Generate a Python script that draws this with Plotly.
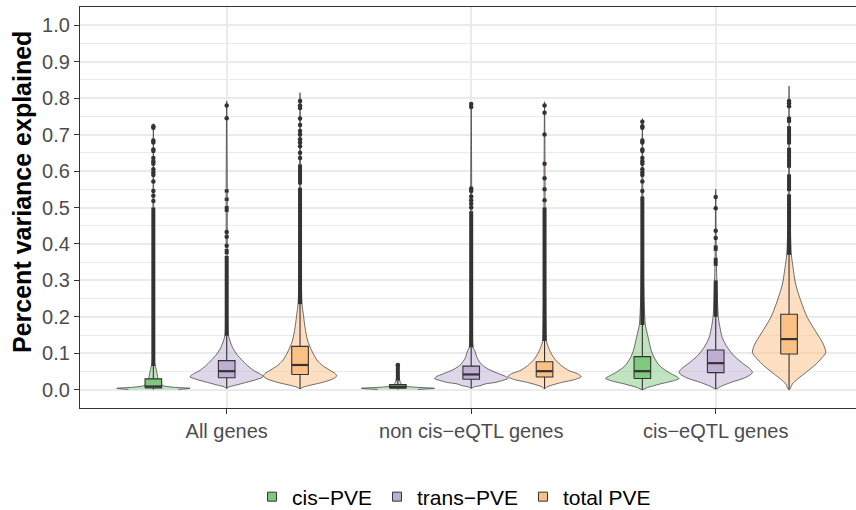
import plotly.graph_objects as go

# ---------------- data ----------------
groups = ["All genes", "non cis\u2212eQTL genes", "cis\u2212eQTL genes"]
series = ["cis\u2212PVE", "trans\u2212PVE", "total PVE"]
y_title = "Percent variance explained"

# box statistics per series, one value per group
cis_q1 = [0.005, 0.004, 0.031]
cis_median = [0.009, 0.008, 0.051]
cis_q3 = [0.030, 0.014, 0.091]
cis_lower = [0.001, 0.001, 0.000]
cis_upper = [0.065, 0.025, 0.178]

trans_q1 = [0.033, 0.029, 0.047]
trans_median = [0.051, 0.042, 0.073]
trans_q3 = [0.080, 0.065, 0.109]
trans_lower = [0.004, 0.004, 0.002]
trans_upper = [0.148, 0.116, 0.200]

total_q1 = [0.042, 0.035, 0.098]
total_median = [0.068, 0.051, 0.139]
total_q3 = [0.119, 0.077, 0.207]
total_lower = [0.003, 0.003, 0.000]
total_upper = [0.235, 0.134, 0.370]

# violin density profiles (value level, relative density 0..1)
cis_all_y = [0.001, 0.004, 0.007, 0.011, 0.016, 0.025, 0.040, 0.055, 0.065, 0.075, 0.20, 0.50, 0.73]
cis_all_d = [0.68, 1.0, 0.55, 0.27, 0.19, 0.14, 0.11, 0.08, 0.055, 0.03, 0.014, 0.011, 0]
trans_all_y = [0.004, 0.008, 0.012, 0.020, 0.029, 0.036, 0.044, 0.052, 0.066, 0.079, 0.098, 0.116, 0.134, 0.150, 0.30, 0.60, 0.792]
trans_all_d = [0, 0.07, 0.22, 0.52, 0.84, 1.0, 0.90, 0.75, 0.57, 0.44, 0.27, 0.16, 0.09, 0.046, 0.02, 0.014, 0]
total_all_y = [0.003, 0.007, 0.011, 0.020, 0.030, 0.038, 0.045, 0.052, 0.066, 0.079, 0.107, 0.134, 0.171, 0.207, 0.235, 0.40, 0.65, 0.815]
total_all_d = [0, 0.08, 0.22, 0.60, 0.90, 1.0, 0.95, 0.84, 0.62, 0.48, 0.32, 0.21, 0.136, 0.09, 0.055, 0.022, 0.014, 0]

cis_non_y = [0.001, 0.004, 0.007, 0.010, 0.015, 0.020, 0.030, 0.045, 0.068]
cis_non_d = [0.55, 1.0, 0.49, 0.22, 0.11, 0.07, 0.04, 0.022, 0]
trans_non_y = [0.004, 0.008, 0.011, 0.016, 0.020, 0.026, 0.031, 0.037, 0.043, 0.057, 0.070, 0.088, 0.107, 0.116, 0.30, 0.55, 0.786]
trans_non_d = [0, 0.08, 0.24, 0.38, 0.65, 0.87, 1.0, 0.93, 0.78, 0.46, 0.28, 0.16, 0.10, 0.055, 0.022, 0.014, 0]
total_non_y = [0.003, 0.007, 0.011, 0.020, 0.028, 0.036, 0.044, 0.052, 0.066, 0.088, 0.107, 0.125, 0.134, 0.30, 0.60, 0.79]
total_non_d = [0, 0.055, 0.145, 0.46, 0.82, 1.0, 0.90, 0.68, 0.46, 0.25, 0.145, 0.074, 0.055, 0.022, 0.014, 0]

cis_eqtl_y = [0.000, 0.006, 0.016, 0.024, 0.031, 0.038, 0.047, 0.066, 0.089, 0.107, 0.134, 0.157, 0.178, 0.35, 0.55, 0.744]
cis_eqtl_d = [0, 0.136, 0.49, 0.82, 1.0, 0.90, 0.73, 0.47, 0.32, 0.245, 0.18, 0.128, 0.082, 0.022, 0.014, 0]
trans_eqtl_y = [0.002, 0.009, 0.020, 0.034, 0.047, 0.058, 0.070, 0.093, 0.116, 0.143, 0.171, 0.198, 0.35, 0.55]
trans_eqtl_d = [0, 0.136, 0.41, 0.82, 1.0, 0.93, 0.77, 0.50, 0.32, 0.18, 0.117, 0.074, 0.019, 0]
total_eqtl_y = [0.000, 0.006, 0.016, 0.029, 0.047, 0.070, 0.088, 0.102, 0.125, 0.153, 0.198, 0.244, 0.290, 0.335, 0.372, 0.55, 0.833]
total_eqtl_d = [0, 0.046, 0.09, 0.226, 0.455, 0.73, 0.90, 1.0, 0.935, 0.77, 0.5, 0.32, 0.18, 0.11, 0.063, 0.016, 0]

# outliers: dense runs (low, high) and sparse single points
cis_all_runs = [(0.065, 0.50)]
cis_all_pts = [0.518, 0.532, 0.545, 0.571, 0.589, 0.596, 0.605, 0.620, 0.627, 0.636, 0.655, 0.659, 0.678, 0.684, 0.719, 0.723]
trans_all_runs = [(0.148, 0.367), (0.372, 0.386), (0.488, 0.504), (0.518, 0.527), (0.541, 0.550)]
trans_all_pts = [0.395, 0.420, 0.433, 0.745, 0.780]
total_all_runs = [(0.235, 0.554), (0.563, 0.618)]
total_all_pts = [0.636, 0.650, 0.668, 0.678, 0.687, 0.700, 0.710, 0.726, 0.744, 0.773, 0.780, 0.792]

cis_non_runs = [(0.025, 0.062)]
cis_non_pts = [0.066, 0.068]
trans_non_runs = [(0.116, 0.490)]
trans_non_pts = [0.500, 0.510, 0.520, 0.530, 0.545, 0.552, 0.776, 0.784]
total_non_runs = [(0.134, 0.500)]
total_non_pts = [0.520, 0.550, 0.580, 0.620, 0.700, 0.760, 0.780]

cis_eqtl_runs = [(0.178, 0.530)]
cis_eqtl_pts = [0.545, 0.571, 0.589, 0.596, 0.605, 0.620, 0.627, 0.636, 0.655, 0.659, 0.678, 0.684, 0.719, 0.723, 0.735]
trans_eqtl_runs = [(0.200, 0.300), (0.340, 0.362), (0.381, 0.396)]
trans_eqtl_pts = [0.416, 0.436, 0.498, 0.529]
total_eqtl_runs = [(0.370, 0.536), (0.545, 0.591), (0.609, 0.664), (0.673, 0.723)]
total_eqtl_pts = [0.737, 0.744, 0.778, 0.785, 0.792]

# ---------------- styling ----------------
box_colors = ["#7FC97F", "#BEAED4", "#FDC086"]
violin_fills = ["rgba(127,201,127,0.5)", "rgba(190,174,212,0.5)", "rgba(253,192,134,0.5)"]
DODGE = [-0.3, 0.0, 0.3]
HALF = 0.15
BOXHALF = 0.034
DARK = "#333333"
FONT = "Liberation Sans, Arial, Helvetica, sans-serif"

violins = [
    [(cis_all_y, cis_all_d), (cis_non_y, cis_non_d), (cis_eqtl_y, cis_eqtl_d)],
    [(trans_all_y, trans_all_d), (trans_non_y, trans_non_d), (trans_eqtl_y, trans_eqtl_d)],
    [(total_all_y, total_all_d), (total_non_y, total_non_d), (total_eqtl_y, total_eqtl_d)],
]
outliers = [
    [(cis_all_runs, cis_all_pts), (cis_non_runs, cis_non_pts), (cis_eqtl_runs, cis_eqtl_pts)],
    [(trans_all_runs, trans_all_pts), (trans_non_runs, trans_non_pts), (trans_eqtl_runs, trans_eqtl_pts)],
    [(total_all_runs, total_all_pts), (total_non_runs, total_non_pts), (total_eqtl_runs, total_eqtl_pts)],
]
stats = [
    (cis_q1, cis_median, cis_q3, cis_lower, cis_upper),
    (trans_q1, trans_median, trans_q3, trans_lower, trans_upper),
    (total_q1, total_median, total_q3, total_lower, total_upper),
]

fig = go.Figure()

# 1) violins
for s in range(3):
    for g in range(3):
        c = g + 1 + DODGE[s]
        ys, ds = violins[s][g]
        xr = [c + d * HALF for d in ds]
        xl = [c - d * HALF for d in ds]
        x = xr + xl[::-1][1:]
        y = list(ys) + list(ys[::-1])[1:]
        fig.add_trace(go.Scatter(
            x=x, y=y, mode="lines", fill="toself", fillcolor=violin_fills[s],
            line=dict(color=DARK, width=0.7, shape="spline", smoothing=0.8),
            hoverinfo="skip", showlegend=False))

# 2) whiskers
wx, wy = [], []
for s in range(3):
    q1, med, q3, lo, hi = stats[s]
    for g in range(3):
        c = g + 1 + DODGE[s]
        wx += [c, c, None, c, c, None]
        wy += [lo[g], q1[g], None, q3[g], hi[g], None]
fig.add_trace(go.Scatter(x=wx, y=wy, mode="lines", line=dict(color=DARK, width=1.1),
                         hoverinfo="skip", showlegend=False))

# 3) boxes + medians
for s in range(3):
    q1, med, q3, lo, hi = stats[s]
    bx, by, mx, my = [], [], [], []
    for g in range(3):
        c = g + 1 + DODGE[s]
        bx += [c - BOXHALF, c + BOXHALF, c + BOXHALF, c - BOXHALF, c - BOXHALF, None]
        by += [q1[g], q1[g], q3[g], q3[g], q1[g], None]
        mx += [c - BOXHALF, c + BOXHALF, None]
        my += [med[g], med[g], None]
    fig.add_trace(go.Scatter(x=bx, y=by, mode="lines", fill="toself", fillcolor=box_colors[s],
                             line=dict(color=DARK, width=1.1), hoverinfo="skip", showlegend=False))
    fig.add_trace(go.Scatter(x=mx, y=my, mode="lines", line=dict(color=DARK, width=2.2),
                             hoverinfo="skip", showlegend=False))

# 4) outliers (dense runs + sparse points)
run_x, run_y, pt_x, pt_y = [], [], [], []
for s in range(3):
    for g in range(3):
        c = g + 1 + DODGE[s]
        runs, pts = outliers[s][g]
        for lo, hi in runs:
            run_x += [c, c, None]
            run_y += [lo, hi, None]
        for p in pts:
            pt_x.append(c)
            pt_y.append(p)
fig.add_trace(go.Scatter(x=run_x, y=run_y, mode="lines",
                         line=dict(color=DARK, width=4), hoverinfo="skip", showlegend=False))
fig.add_trace(go.Scatter(x=pt_x, y=pt_y, mode="markers",
                         marker=dict(color=DARK, size=4.5), hoverinfo="skip", showlegend=False))

# legend keys
for s in range(3):
    fig.add_trace(go.Scatter(x=[None], y=[None], mode="markers", name=series[s],
                             marker=dict(symbol="square", size=9, color=box_colors[s],
                                         line=dict(color=DARK, width=1)),
                             hoverinfo="skip", showlegend=True))

# y-axis title
fig.add_annotation(text="<b>" + y_title + "</b>", textangle=-90,
                   xref="paper", x=-58 / 776, xanchor="center",
                   yref="paper", y=(408 - 192) / 401, yanchor="middle",
                   showarrow=False, font=dict(size=25, color="black", family=FONT))

fig.update_layout(
    width=856, height=510,
    margin=dict(l=80, r=0, t=7, b=102),
    paper_bgcolor="white", plot_bgcolor="white",
    font=dict(family=FONT, color="black"),
    showlegend=True,
    legend=dict(orientation="h", x=0.482, xanchor="center",
                yref="container", y=13 / 510, yanchor="middle",
                font=dict(size=21, color="black"), traceorder="normal",
                itemsizing="trace"),
    xaxis=dict(
        range=[0.4, 0.4 + 776 / 244.5],
        tickmode="array", tickvals=[1, 2, 3], ticktext=groups,
        tickfont=dict(size=20, color="#4D4D4D"),
        ticks="outside", ticklen=5, tickcolor=DARK, tickwidth=1.3,
        showgrid=True, gridcolor="#EBEBEB", gridwidth=1.6,
        showline=True, linecolor=DARK, linewidth=1.3, mirror=True,
        zeroline=False),
    yaxis=dict(
        range=[-0.05, 1.05],
        tickmode="array", tickvals=[i / 10 for i in range(11)],
        tickformat=".1f",
        tickfont=dict(size=20, color="#4D4D4D"),
        ticks="outside", ticklen=5, tickcolor=DARK, tickwidth=1.3,
        showgrid=True, gridcolor="#EBEBEB", gridwidth=1.6,
        minor=dict(dtick=0.05, tick0=0, showgrid=True, gridcolor="#EBEBEB", gridwidth=0.8),
        showline=True, linecolor=DARK, linewidth=1.3, mirror=False,
        zeroline=False),
)

fig.write_html("out.html")
